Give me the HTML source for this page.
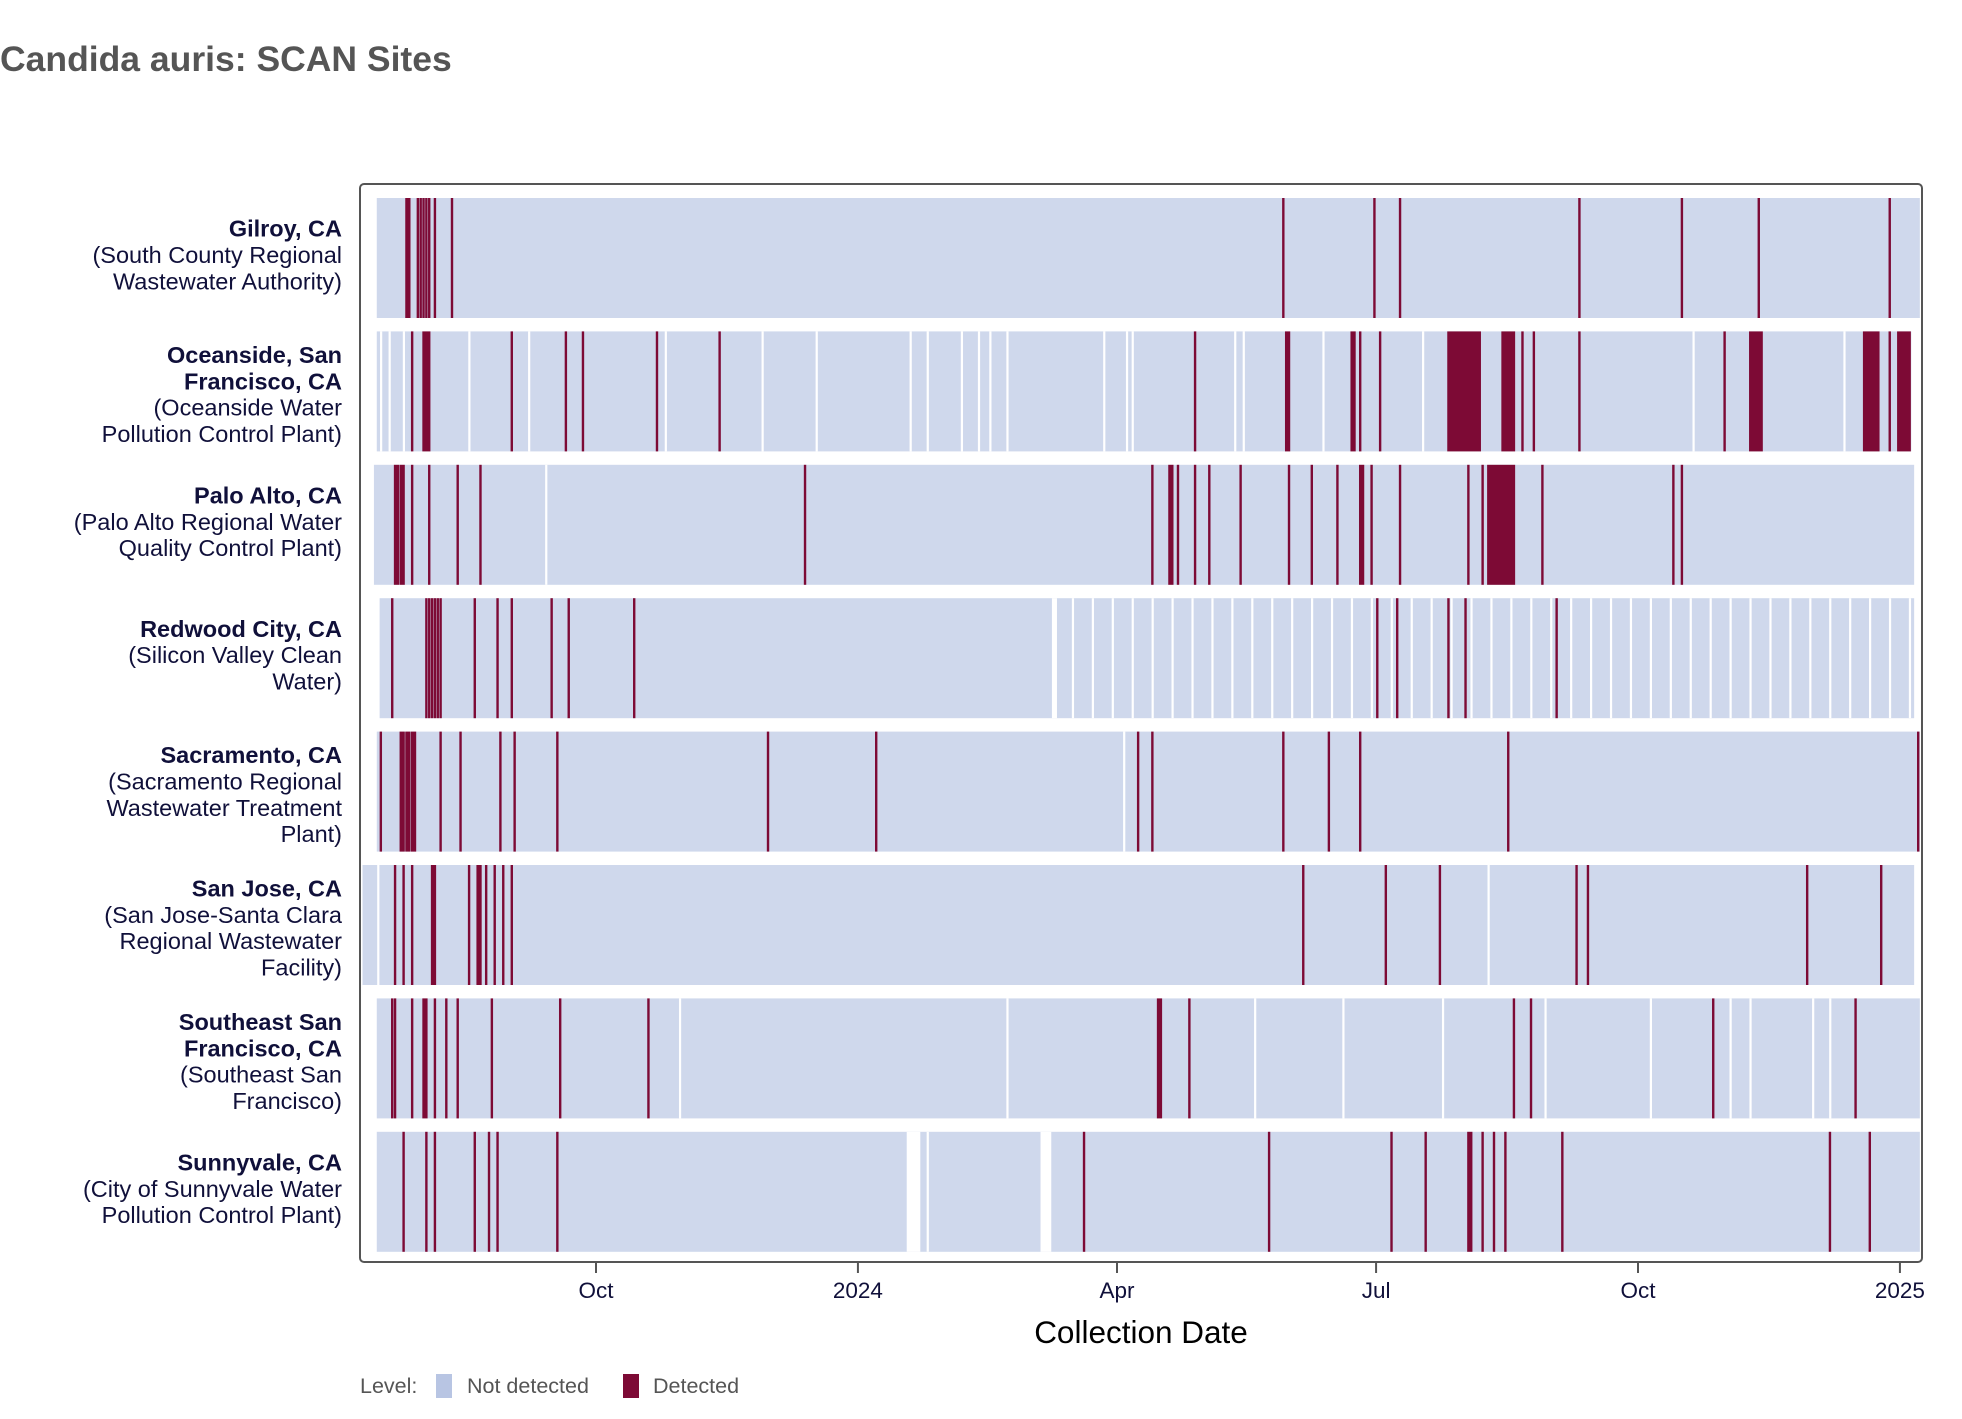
<!DOCTYPE html>
<html><head><meta charset="utf-8">
<style>
html,body{margin:0;padding:0;background:#fff;}
body{width:1962px;height:1414px;overflow:hidden;font-family:"Liberation Sans",sans-serif;}
svg text{font-family:"Liberation Sans",sans-serif;}
</style></head>
<body>
<svg id="chart" width="1962" height="1414" viewBox="0 0 1962 1414" xmlns="http://www.w3.org/2000/svg">
<text x="0" y="71" font-size="35.5" font-weight="bold" fill="#555">Candida auris: SCAN Sites</text>
<rect x="360" y="184" width="1562" height="1078" rx="4" fill="none" stroke="#555" stroke-width="2"/>
<g id="rows"></g>
<g id="labels"></g>
<g id="xaxis"></g>
<text x="1141" y="1343" font-size="31.5" text-anchor="middle" fill="#000">Collection Date</text>
<g>
<text x="360" y="1393" font-size="21.5" fill="#555">Level:</text>
<rect x="436" y="1374" width="16" height="24" fill="#b8c5e3"/>
<text x="467" y="1393" font-size="21.5" fill="#555">Not detected</text>
<rect x="623" y="1374" width="16" height="24" fill="#7d0a35"/>
<text x="653" y="1393" font-size="21.5" fill="#555">Detected</text>
</g>
</svg>
<script>
// days relative to 2023-10-01
const siteNames = ["Gilroy","Oceanside","Palo Alto","Redwood City","Sacramento","San Jose","Southeast SF","Sunnyvale"];
const siteLabels = [
 ["Gilroy, CA","(South County Regional","Wastewater Authority)"],
 ["Oceanside, San","Francisco, CA","(Oceanside Water","Pollution Control Plant)"],
 ["Palo Alto, CA","(Palo Alto Regional Water","Quality Control Plant)"],
 ["Redwood City, CA","(Silicon Valley Clean","Water)"],
 ["Sacramento, CA","(Sacramento Regional","Wastewater Treatment","Plant)"],
 ["San Jose, CA","(San Jose-Santa Clara","Regional Wastewater","Facility)"],
 ["Southeast San","Francisco, CA","(Southeast San","Francisco)"],
 ["Sunnyvale, CA","(City of Sunnyvale Water","Pollution Control Plant)"]
];
const boldLines = [1,2,1,1,1,1,2,1];
const rangeStart = [-77,-77,-78,-76,-77,-82,-77,-77];
const rangeEnd = [465,462,463,463,465,463,465,465];
const detected = [
 [[-67,-66],[-63,-63],[-62,-62],[-61,-61],[-60,-60],[-59,-59],[-57,-57],[-51,-51],[241,241],[273,273],[282,282],[345,345],[381,381],[408,408],[454,454]],
 [[-65,-65],[-61,-59],[-30,-30],[-11,-11],[-5,-5],[21,21],[43,43],[210,210],[242,243],[265,266],[268,268],[275,275],[299,310],[318,322],[325,325],[329,329],[345,345],[396,396],[405,409],[445,450],[454,454],[457,461]],
 [[-71,-70],[-69,-68],[-65,-65],[-59,-59],[-49,-49],[-41,-41],[73,73],[195,195],[201,202],[204,204],[210,210],[215,215],[226,226],[243,243],[251,251],[260,260],[268,269],[272,272],[282,282],[306,306],[311,311],[313,322],[332,332],[378,378],[381,381]],
 [[-72,-72],[-60,-60],[-59,-59],[-58,-58],[-57,-57],[-56,-56],[-55,-55],[-43,-43],[-35,-35],[-30,-30],[-16,-16],[-10,-10],[13,13],[274,274],[281,281],[299,299],[305,305],[337,337]],
 [[-76,-76],[-69,-68],[-67,-66],[-65,-64],[-55,-55],[-48,-48],[-34,-34],[-29,-29],[-14,-14],[60,60],[98,98],[190,190],[195,195],[241,241],[257,257],[268,268],[320,320],[464,464]],
 [[-71,-71],[-68,-68],[-65,-65],[-58,-57],[-45,-45],[-42,-41],[-39,-39],[-36,-36],[-33,-33],[-30,-30],[248,248],[277,277],[296,296],[344,344],[348,348],[425,425],[451,451]],
 [[-72,-72],[-71,-71],[-65,-65],[-61,-60],[-57,-57],[-53,-53],[-49,-49],[-37,-37],[-13,-13],[18,18],[197,198],[208,208],[322,322],[328,328],[392,392],[442,442]],
 [[-68,-68],[-60,-60],[-57,-57],[-43,-43],[-38,-38],[-35,-35],[-14,-14],[171,171],[236,236],[279,279],[291,291],[306,307],[311,311],[315,315],[319,319],[339,339],[433,433],[447,447]]
];
const gaps = [
 [],
 [[-76,-76],[-73,-73],[-68,-68],[-45,-45],[-24,-24],[24,24],[58,58],[77,77],[110,110],[116,116],[128,128],[134,134],[138,138],[144,144],[178,178],[186,186],[188,188],[224,224],[227,227],[255,255],[290,290],[385,385],[438,438]],
 [[-18,-18]],
 [[160,161],[167,167],[174,174],[181,181],[188,188],[195,195],[202,202],[209,209],[216,216],[223,223],[230,230],[237,237],[244,244],[251,251],[258,258],[265,265],[272,272],[279,279],[286,286],[293,293],[300,300],[307,307],[314,314],[321,321],[328,328],[335,335],[342,342],[349,349],[356,356],[363,363],[370,370],[377,377],[384,384],[391,391],[398,398],[405,405],[412,412],[419,419],[426,426],[433,433],[440,440],[447,447],[454,454],[461,461]],
 [[185,185]],
 [[-77,-77],[313,313]],
 [[29,29],[144,144],[231,231],[262,262],[297,297],[333,333],[370,370],[398,398],[405,405],[427,427],[433,433]],
 [[109,113],[116,116],[156,159]]
];
const tickLabels = ["Oct","2024","Apr","Jul","Oct","2025"];
const tickDays = [0,92,183,274,366,458];

const NS="http://www.w3.org/2000/svg";
const X0=596, PXD=2.847;
function xs(d){return X0+d*PXD;}
function rowTop(i){return 198+i*133.4;}
const ROWH=120;
function mk(tag,attrs,parent){const e=document.createElementNS(NS,tag);for(const k in attrs)e.setAttribute(k,attrs[k]);parent.appendChild(e);return e;}
const rows=document.getElementById('rows');
const labels=document.getElementById('labels');
for(let i=0;i<siteNames.length;i++){
  const g=mk('g',{},rows);
  
  
  const y=rowTop(i);
  const bg=mk('rect',{x:xs(rangeStart[i]),y:y,width:xs(rangeEnd[i])-xs(rangeStart[i]),height:ROWH,fill:'#cfd8ec'},g);
  
  
  for(const gp of gaps[i]){
    const r=mk('rect',{x:xs(gp[0])+0.4,y:y,width:(gp[1]-gp[0])*PXD+2.2,height:ROWH,fill:'#fff'},g);
    
    
  }
  for(const dt of detected[i]){
    const r=mk('rect',{x:xs(dt[0]),y:y,width:(dt[1]-dt[0])*PXD+2.4,height:ROWH,fill:'#7d0a35'},g);
    
    
  }
  const lines=siteLabels[i];
  const lh=26.3;
  const cy=y+ROWH/2-6+(lines.length===4?9:3);
  const first=cy-(lines.length-1)*lh/2;
  const t=mk('text',{'text-anchor':'end','font-size':23.5,fill:'#10103a'},labels);
  
  
  lines.forEach((ln,j)=>{
    const ts=mk('tspan',{x:342,y:first+j*lh+8},t);
    if(j<boldLines[i]) ts.setAttribute('font-weight','bold');
    ts.textContent=ln;
  });
}
const xa=document.getElementById('xaxis');
tickDays.forEach((d,k)=>{
  const x=xs(d);
  const l=mk('line',{x1:x,x2:x,y1:1263,y2:1273,stroke:'#555','stroke-width':2},xa);
  
  
  const t=mk('text',{x:x,y:1298,'text-anchor':'middle','font-size':22.5,fill:'#10103a'},xa);
  
  
  t.textContent=tickLabels[k];
});
</script>
</body></html>
